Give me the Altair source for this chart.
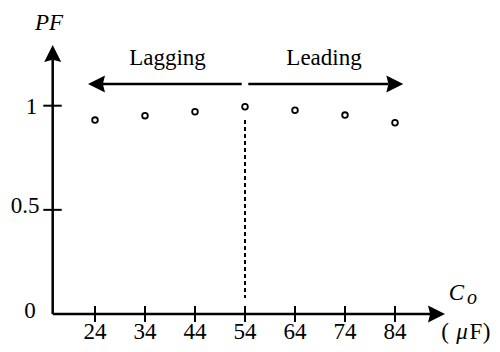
import altair as alt
import pandas as pd

# ---- chart values ----
capacitance = [24, 34, 44, 54, 64, 74, 84]          # C_o (uF)
power_factor = [0.931, 0.952, 0.971, 0.995, 0.978, 0.955, 0.918]
x_tick_values = [24, 34, 44, 54, 64, 74, 84]
x_tick_labels = ["24", "34", "44", "54", "64", "74", "84"]
y_tick_values = [0.5, 1.0]
y_label_values = [0.0, 0.5, 1.0]
y_tick_labels = ["0", "0.5", "1"]
unity_pf_capacitance = 54

# ---- layout (data units) ----
X_DOMAIN = [6.6, 103.4]
Y_DOMAIN = [-0.144, 1.469]
AXIS_X0 = 15.54
FONT = "Liberation Serif"

xs = alt.Scale(domain=X_DOMAIN, nice=False, zero=False)
ys = alt.Scale(domain=Y_DOMAIN, nice=False, zero=False)


def X(f):
    return alt.X(f, type="quantitative", scale=xs, axis=None)


def Y(f):
    return alt.Y(f, type="quantitative", scale=ys, axis=None)


def X2(f):
    return alt.X2(f)


def Y2(f):
    return alt.Y2(f)


# axis lines
axes_df = pd.DataFrame({
    "x": [AXIS_X0, AXIS_X0],
    "x2": [91.0, AXIS_X0],
    "y": [0.0, 0.0],
    "y2": [0.0, 1.22],
})
axes = alt.Chart(axes_df).mark_rule(color="black", strokeWidth=2.5).encode(
    x=X("x"), x2=X2("x2"), y=Y("y"), y2=Y2("y2"))

# x ticks
xt_df = pd.DataFrame({"x": x_tick_values, "y": [0.038] * 7, "y2": [-0.038] * 7})
xticks = alt.Chart(xt_df).mark_rule(color="black", strokeWidth=2).encode(
    x=X("x"), y=Y("y"), y2=Y2("y2"))

# y ticks
yt_df = pd.DataFrame({"y": y_tick_values, "x": [13.66] * 2, "x2": [17.34] * 2})
yticks = alt.Chart(yt_df).mark_rule(color="black", strokeWidth=2).encode(
    x=X("x"), x2=X2("x2"), y=Y("y"))

# dashed line at unity PF
dash_df = pd.DataFrame({"x": [unity_pf_capacitance], "y": [0.931], "y2": [0.077]})
dashed = alt.Chart(dash_df).mark_rule(color="black", strokeWidth=2, strokeDash=[4, 3]).encode(
    x=X("x"), y=Y("y"), y2=Y2("y2"))

# lagging / leading arrow shafts
shaft_df = pd.DataFrame({"x": [53.34, 54.66], "x2": [25.6, 82.7], "y": [1.104, 1.104]})
shafts = alt.Chart(shaft_df).mark_rule(color="black", strokeWidth=2.5).encode(
    x=X("x"), x2=X2("x2"), y=Y("y"))

# arrow heads
UP = "M0,0L-1,2L0,1.75L1,2Z"
RIGHT = "M0,0L-2,-1L-1.75,0L-2,1Z"
LEFT = "M0,0L2,-1L1.75,0L2,1Z"

up_df = pd.DataFrame({"x": [AXIS_X0], "y": [1.2914]})
right_df = pd.DataFrame({"x": [94.0, 85.66], "y": [0.0, 1.104]})
left_df = pd.DataFrame({"x": [22.6], "y": [1.104]})


def head(df, shape):
    return alt.Chart(df).mark_point(shape=shape, filled=True, color="black",
                                    size=289, opacity=1, strokeWidth=0).encode(
        x=X("x"), y=Y("y"))


heads = [head(up_df, UP), head(right_df, RIGHT), head(left_df, LEFT)]

# data points
pts_df = pd.DataFrame({"C": capacitance, "PF": power_factor})
points = alt.Chart(pts_df).mark_point(shape="circle", filled=False, color="black",
                                      size=32, strokeWidth=1.8, opacity=1).encode(
    x=X("C"), y=Y("PF"))

# texts
up_t = ["Lagging", "Leading"] + x_tick_labels + y_tick_labels + ["(", "F", ")"]
up_text_df = pd.DataFrame({
    "t": up_t,
    "x": [38.5, 69.8] + x_tick_values + [11.0, 10.0, 11.3] + [94.0, 100.2, 102.3],
    "y": [1.195, 1.195] + [-0.12] * 7 + [-0.0192, 0.487, 0.960] + [-0.118, -0.118, -0.118],
    "s": [23] * len(up_t),
})
it_text_df = pd.DataFrame({
    "t": ["PF", "C", "o", "μ"],
    "x": [14.8, 96.3, 99.4, 97.4],
    "y": [1.363, 0.0672, 0.046, -0.118],
    "s": [23, 23, 20, 23],
})
up_text = alt.Chart(up_text_df).mark_text(font=FONT, color="black", align="center",
                                          baseline="alphabetic").encode(
    x=X("x"), y=Y("y"), text="t:N", size=alt.Size("s:Q", scale=None, legend=None))
it_text = alt.Chart(it_text_df).mark_text(font=FONT, fontStyle="italic", color="black",
                                          align="center", baseline="alphabetic").encode(
    x=X("x"), y=Y("y"), text="t:N", size=alt.Size("s:Q", scale=None, legend=None))

chart = alt.layer(axes, xticks, yticks, dashed, shafts, *heads, points, up_text, it_text).properties(
    width=484, height=336, padding=0,
    autosize=alt.AutoSizeParams(type="none"),
    background="white",
).configure_view(stroke=None)

chart.save("out.html", embed_options={"renderer": "svg", "actions": False})
